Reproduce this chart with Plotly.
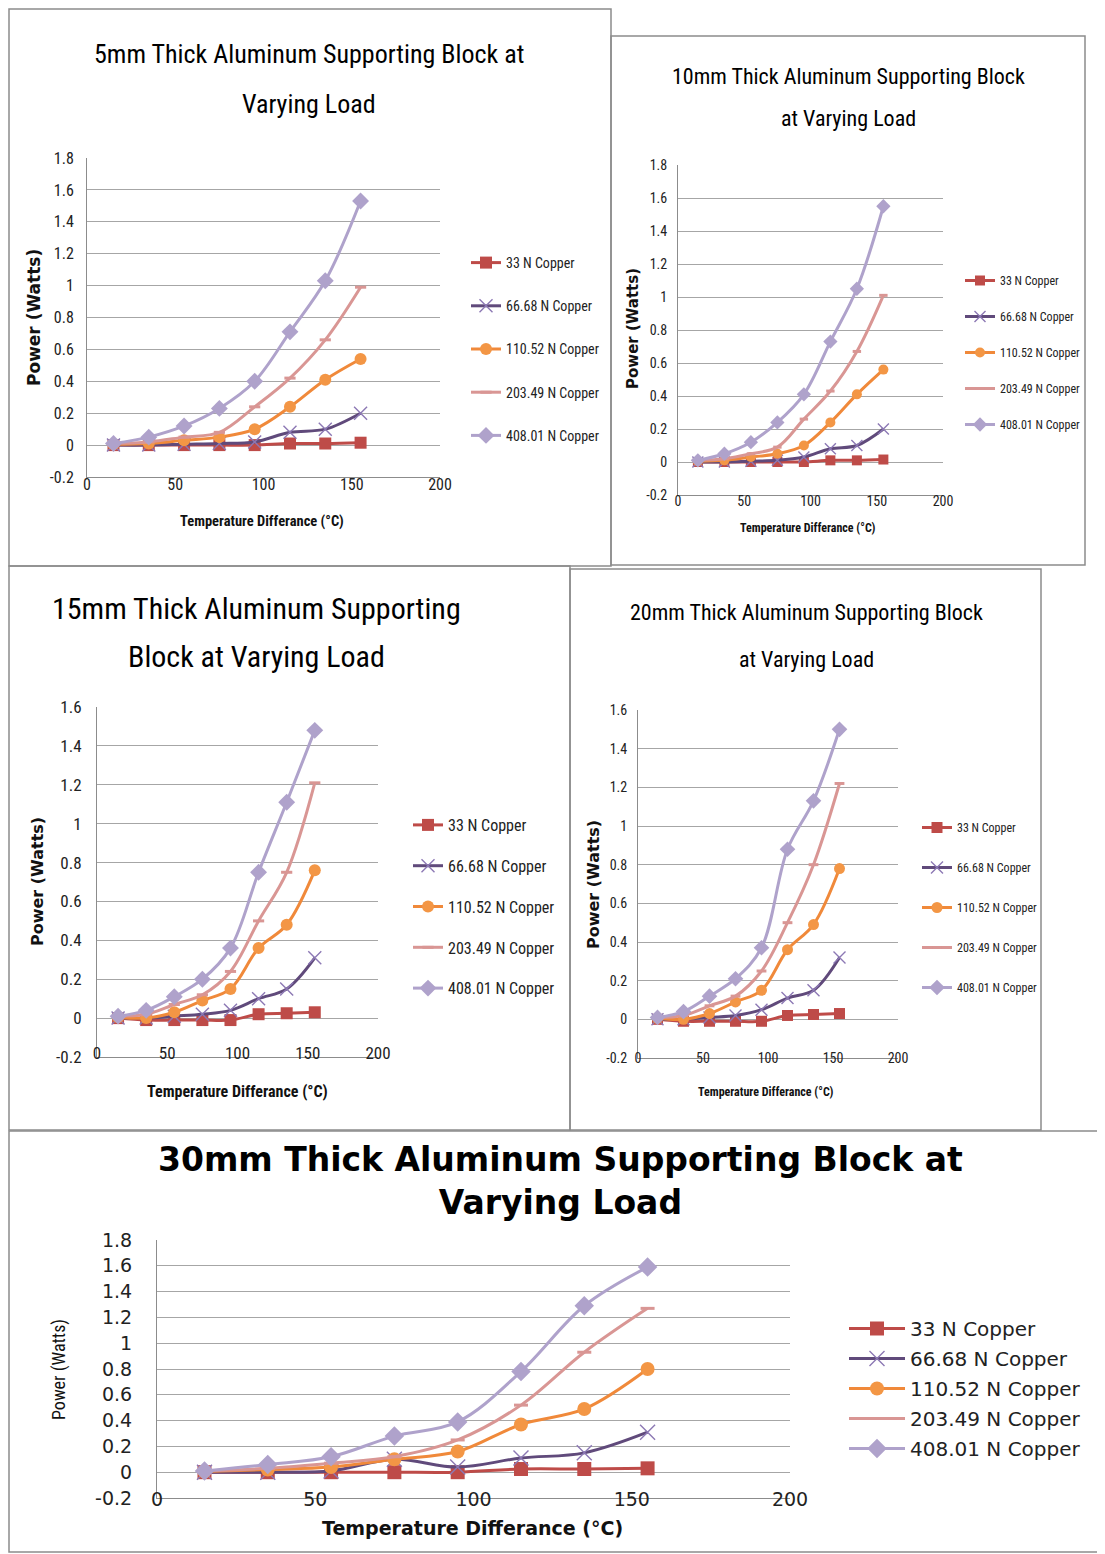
import plotly.graph_objects as go

# page coordinates (the page body has an 8px margin, so the figure is offset by it)
PAGE_W, PAGE_H = 1105, 1554
OFF = 8
W, H = PAGE_W - OFF, PAGE_H - OFF

# ---------------- data ----------------
temp_diff = [15, 35, 55, 75, 95, 115, 135, 155]
series_names = ["33 N Copper", "66.68 N Copper", "110.52 N Copper",
                "203.49 N Copper", "408.01 N Copper"]

# power (W) per load, for each block thickness
p5mm_33 = [0.0, 0.0, 0.0, 0.0, 0.0, 0.01, 0.01, 0.015]
p5mm_66 = [0.0, 0.0, 0.005, 0.01, 0.02, 0.08, 0.10, 0.20]
p5mm_110 = [0.005, 0.01, 0.03, 0.05, 0.10, 0.24, 0.41, 0.54]
p5mm_203 = [0.01, 0.02, 0.05, 0.08, 0.24, 0.42, 0.66, 0.99]
p5mm_408 = [0.01, 0.05, 0.12, 0.23, 0.40, 0.71, 1.03, 1.53]

p10mm_33 = [0.0, 0.0, 0.0, 0.0, 0.0, 0.01, 0.01, 0.015]
p10mm_66 = [0.0, 0.0, 0.005, 0.01, 0.03, 0.08, 0.10, 0.20]
p10mm_110 = [0.005, 0.01, 0.03, 0.05, 0.10, 0.24, 0.41, 0.56]
p10mm_203 = [0.01, 0.02, 0.05, 0.09, 0.26, 0.43, 0.67, 1.01]
p10mm_408 = [0.01, 0.05, 0.12, 0.24, 0.41, 0.73, 1.05, 1.55]

p15mm_33 = [0.0, -0.01, -0.01, -0.01, -0.01, 0.02, 0.025, 0.03]
p15mm_66 = [0.0, 0.0, 0.01, 0.02, 0.04, 0.10, 0.15, 0.31]
p15mm_110 = [0.005, 0.0, 0.03, 0.09, 0.15, 0.36, 0.48, 0.76]
p15mm_203 = [0.01, 0.02, 0.07, 0.12, 0.24, 0.50, 0.75, 1.21]
p15mm_408 = [0.01, 0.04, 0.11, 0.20, 0.36, 0.75, 1.11, 1.48]

p20mm_33 = [0.0, -0.01, -0.01, -0.01, -0.01, 0.02, 0.025, 0.03]
p20mm_66 = [0.0, 0.0, 0.01, 0.02, 0.05, 0.11, 0.15, 0.32]
p20mm_110 = [0.005, 0.0, 0.03, 0.09, 0.15, 0.36, 0.49, 0.78]
p20mm_203 = [0.01, 0.02, 0.07, 0.12, 0.25, 0.50, 0.80, 1.22]
p20mm_408 = [0.01, 0.04, 0.12, 0.21, 0.37, 0.88, 1.13, 1.50]

p30mm_33 = [0.0, 0.0, 0.0, 0.0, 0.0, 0.025, 0.025, 0.03]
p30mm_66 = [0.0, 0.0, 0.01, 0.10, 0.04, 0.11, 0.15, 0.31]
p30mm_110 = [0.005, 0.02, 0.04, 0.10, 0.16, 0.37, 0.49, 0.80]
p30mm_203 = [0.01, 0.03, 0.07, 0.12, 0.25, 0.52, 0.93, 1.27]
p30mm_408 = [0.01, 0.06, 0.12, 0.28, 0.39, 0.78, 1.29, 1.59]

x_ticks = [0, 50, 100, 150, 200]
y_ticks_18 = [-0.2, 0, 0.2, 0.4, 0.6, 0.8, 1, 1.2, 1.4, 1.6, 1.8]
y_labels_18 = ["-0.2", "0", "0.2", "0.4", "0.6", "0.8", "1", "1.2", "1.4", "1.6", "1.8"]
y_ticks_16 = y_ticks_18[:-1]
y_labels_16 = y_labels_18[:-1]

x_title = "Temperature Differance (°C)"
y_title = "Power (Watts)"

# ---------------- styling ----------------
NARROW = "Liberation Sans Narrow, Arial Narrow, Roboto Condensed, sans-serif"
WIDE = "DejaVu Sans, Verdana, sans-serif"

line_colors = ["#BE4B48", "#604A7B", "#F0893A", "#D99694", "#AFA2CB"]
marker_colors = ["#BE4B48", "#8C78B4", "#F39645", "#D99694", "#AFA2CB"]
symbols = ["square", "x-thin", "circle", "line-ew", "diamond"]


def fx(a):
    return (a - OFF) / W


def fy(a):
    return 1 - (a - OFF) / H


charts = [
    dict(title=("5mm Thick Aluminum Supporting Block at", "Varying Load"),
         data=[p5mm_33, p5mm_66, p5mm_110, p5mm_203, p5mm_408],
         box=(9, 9, 611, 566), px=(87, 440), py=(158, 477), ymax=1.8,
         tfont=(NARROW, 26), tpos=(309, 54, 104), tick=(NARROW, 16),
         ystand=9, xstand=-7,
         ytitle=(34, 318), ytfont=(WIDE, 17),
         xtitle=(262, 521), xtfont=(NARROW, 14.5),
         leg=(466, 247, 14, 22, 30), msize=12),
    dict(title=("10mm Thick Aluminum Supporting Block", "at Varying Load"),
         data=[p10mm_33, p10mm_66, p10mm_110, p10mm_203, p10mm_408],
         box=(611, 36, 1085, 565), px=(678, 943), py=(165, 495), ymax=1.8,
         tfont=(NARROW, 22), tpos=(848, 76, 119), tick=(NARROW, 14),
         ystand=7, xstand=-7,
         ytitle=(633, 329), ytfont=(WIDE, 15),
         xtitle=(808, 528), xtfont=(NARROW, 12),
         leg=(960, 266, 12, 17, 30), msize=10),
    dict(title=("15mm Thick Aluminum Supporting", "Block at Varying Load"),
         data=[p15mm_33, p15mm_66, p15mm_110, p15mm_203, p15mm_408],
         box=(9, 566, 570, 1130), px=(97, 378), py=(707, 1057), ymax=1.6,
         tfont=(NARROW, 30), tpos=(256, 608, 656), tick=(NARROW, 17),
         ystand=11, xstand=-19,
         ytitle=(37, 882), ytfont=(WIDE, 16),
         xtitle=(237, 1091), xtfont=(NARROW, 16),
         leg=(408, 808, 16, 17, 30), msize=12),
    dict(title=("20mm Thick Aluminum Supporting Block", "at Varying Load"),
         data=[p20mm_33, p20mm_66, p20mm_110, p20mm_203, p20mm_408],
         box=(570, 569, 1041, 1130), px=(638, 898), py=(710, 1058), ymax=1.6,
         tfont=(NARROW, 22), tpos=(806, 612, 659), tick=(NARROW, 14),
         ystand=7, xstand=-13,
         ytitle=(593, 885), ytfont=(WIDE, 16),
         xtitle=(766, 1092), xtfont=(NARROW, 12),
         leg=(917, 813, 12, 21, 30), msize=11),
    dict(title=("30mm Thick Aluminum Supporting Block at", "Varying Load"),
         data=[p30mm_33, p30mm_66, p30mm_110, p30mm_203, p30mm_408],
         box=(9, 1131, 1103, 1552), px=(157, 790), py=(1240, 1498), ymax=1.8,
         tfont=(WIDE, 33), tpos=(560, 1181, None), tick=(WIDE, 19),
         ystand=20, xstand=-16,
         ytitle=(59, 1370), ytfont=(NARROW, 18),
         xtitle=(472, 1528), xtfont=(WIDE, 19),
         leg=(844, 1309, 20, 1, 56), msize=14),
]

fig = go.Figure()
layout = dict(width=W, height=H,
              margin=dict(l=0, r=0, t=0, b=0, pad=0, autoexpand=False),
              paper_bgcolor="white", plot_bgcolor="white",
              showlegend=True, shapes=[], annotations=[])

for ci, ch in enumerate(charts):
    n = ci + 1
    xa = "xaxis" if n == 1 else f"xaxis{n}"
    ya = "yaxis" if n == 1 else f"yaxis{n}"
    lg = "legend" if n == 1 else f"legend{n}"
    xref = "x" if n == 1 else f"x{n}"
    yref = "y" if n == 1 else f"y{n}"
    tfam, tsize = ch["tick"]
    if ch["ymax"] > 1.7:
        yt, yl = y_ticks_18, y_labels_18
    else:
        yt, yl = y_ticks_16, y_labels_16

    for si, name in enumerate(series_names):
        ms = ch["msize"]
        marker = dict(symbol=symbols[si], size=ms, color=marker_colors[si])
        if symbols[si] == "x-thin":
            marker.update(size=ms + 1, line=dict(width=1.4, color=marker_colors[si]))
        if symbols[si] == "line-ew":
            marker.update(size=ms - 4, line=dict(width=3, color=marker_colors[si]))
        if symbols[si] == "diamond":
            marker.update(size=ms + 1)
        fig.add_trace(go.Scatter(
            x=temp_diff, y=ch["data"][si], name=name, mode="lines+markers",
            line=dict(color=line_colors[si], width=3, shape="spline", smoothing=1.0),
            marker=marker, xaxis=xref, yaxis=yref, legend=lg,
            legendgroup=f"c{n}s{si}",
        ))

    layout[xa] = dict(domain=[fx(ch["px"][0]), fx(ch["px"][1])], range=[0, 200],
                      tickvals=x_ticks,
                      showgrid=False, zeroline=False, showline=True,
                      linecolor="#8C8C8C", linewidth=1, ticks="", automargin=False,
                      tickfont=dict(family=tfam, size=tsize, color="#222"),
                      ticklabelstandoff=ch["xstand"], anchor=yref, fixedrange=True)
    layout[ya] = dict(domain=[fy(ch["py"][1]), fy(ch["py"][0])], range=[-0.2, ch["ymax"]],
                      tickvals=yt, ticktext=yl, showgrid=True, gridcolor="#A6A6A6",
                      gridwidth=1, zeroline=False, showline=True,
                      linecolor="#8C8C8C", linewidth=1, ticks="", automargin=False,
                      tickfont=dict(family=tfam, size=tsize, color="#222"),
                      ticklabelstandoff=ch["ystand"],
                      anchor=xref, fixedrange=True)

    lx, ly, lfs, lgap, iw = ch["leg"]
    layout[lg] = dict(x=fx(lx), y=fy(ly), xanchor="left", yanchor="top",
                      font=dict(family=(WIDE if n == 5 else NARROW), size=lfs, color="#222"),
                      bgcolor="rgba(0,0,0,0)", borderwidth=0,
                      traceorder="grouped", tracegroupgap=lgap, itemwidth=iw)

    x0, y0, x1, y1 = ch["box"]
    layout["shapes"].append(dict(type="rect", xref="paper", yref="paper",
                                 x0=fx(x0), x1=fx(x1), y0=fy(y1), y1=fy(y0),
                                 line=dict(color="#8C8C8C", width=1.5), layer="below"))

    ff, fs = ch["tfont"]
    tcx, t1, t2 = ch["tpos"]
    tweight = "bold" if n == 5 else "normal"
    if t2 is None:
        title_parts = [("<br>".join(ch["title"]), t1)]
    else:
        title_parts = list(zip(ch["title"], (t1, t2)))
    for line_text, ty in title_parts:
        layout["annotations"].append(dict(text=line_text, xref="paper", yref="paper",
                                          x=fx(tcx), y=fy(ty),
                                          xanchor="center", yanchor="middle", showarrow=False,
                                          font=dict(family=ff, size=fs, color="#000",
                                                    weight=tweight)))
    tx, ty = ch["ytitle"]
    yf, ys = ch["ytfont"]
    layout["annotations"].append(dict(text=y_title, xref="paper", yref="paper",
                                      x=fx(tx), y=fy(ty), textangle=-90,
                                      xanchor="center", yanchor="middle", showarrow=False,
                                      font=dict(family=yf, size=ys, color="#111",
                                                weight=("normal" if n == 5 else "bold"))))
    xf, xs = ch["xtfont"]
    layout["annotations"].append(dict(text=x_title, xref="paper", yref="paper",
                                      x=fx(ch["xtitle"][0]), y=fy(ch["xtitle"][1]),
                                      xanchor="center", yanchor="middle", showarrow=False,
                                      font=dict(family=xf, size=xs, color="#111",
                                                weight="bold")))

fig.update_layout(**layout)
fig.write_html("out.html")
